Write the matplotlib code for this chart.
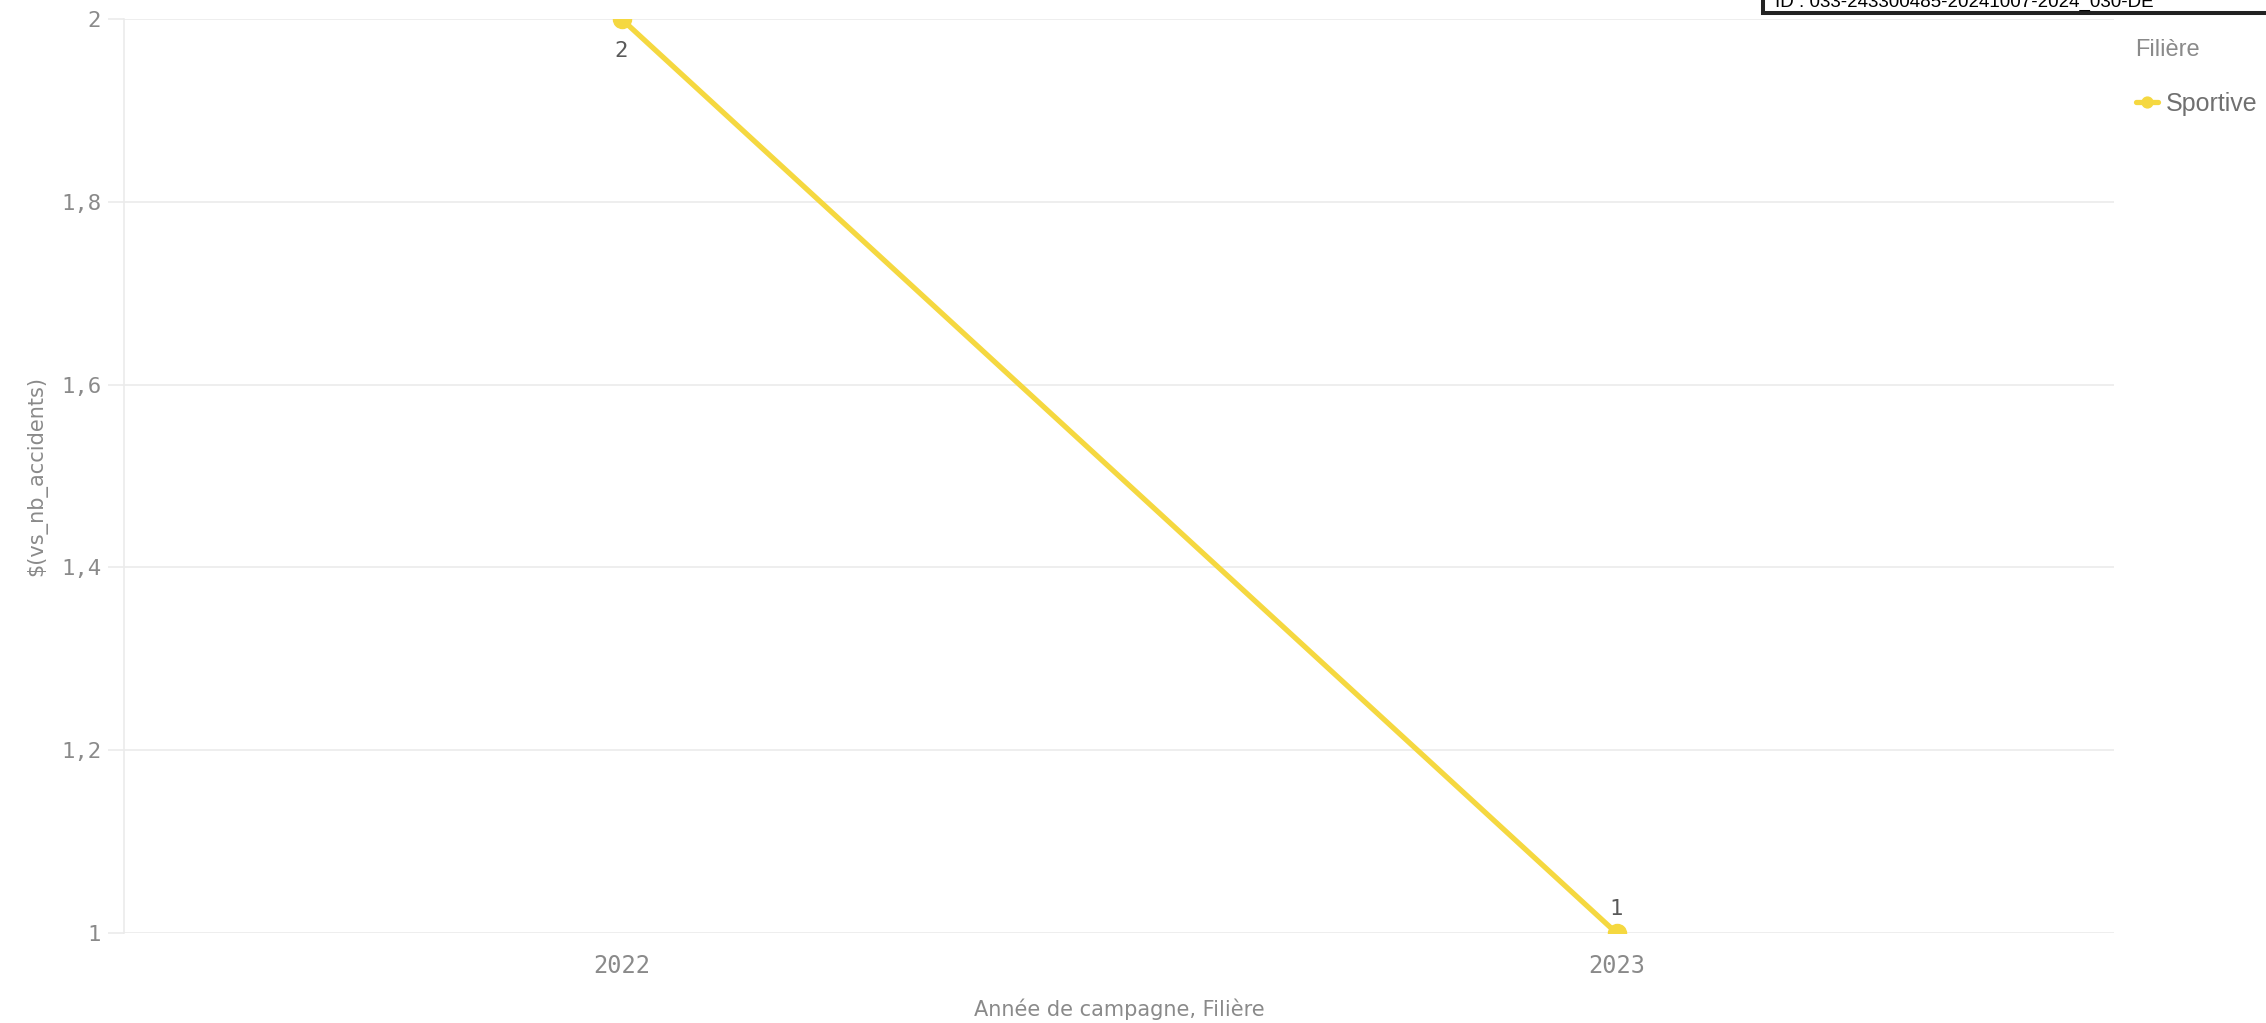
import matplotlib
matplotlib.use('agg')
import matplotlib.pyplot as plt
from matplotlib.patches import Rectangle

# data
years = ['2022', '2023']
nb_accidents = [2, 1]
series_name = 'Sportive'
y_ticks = [1, 1.2, 1.4, 1.6, 1.8, 2]
y_tick_labels = ['1', '1,2', '1,4', '1,6', '1,8', '2']

line_color = '#f5d840'
grid_color = '#ebebeb'
label_color = '#8a8a8a'

fig = plt.figure(figsize=(22.66, 10.23), dpi=100)
ax = fig.add_axes([124 / 2266, 1 - 933 / 1023, (2114 - 124) / 2266, (933 - 19) / 1023])

x = list(range(len(years)))
ax.plot(x, nb_accidents, color=line_color, lw=3.8, marker='o', ms=13,
        solid_capstyle='round', label=series_name, clip_on=True, zorder=3)

# value labels
for xi, v in zip(x, nb_accidents):
    off = -32 if v == max(nb_accidents) else 24
    ax.annotate(str(v), (xi, v), xytext=(0, off), textcoords='offset pixels',
                ha='center', va='center', fontsize=16, family='DejaVu Sans Mono', color='#595959')

ax.set_xlim(-0.5, len(years) - 0.5)
ax.set_ylim(1, 2)
ax.set_xticks(x)
ax.set_xticklabels(years, family='DejaVu Sans Mono', fontsize=17, color=label_color)
ax.set_yticks(y_ticks)
ax.set_yticklabels(y_tick_labels, family='DejaVu Sans Mono', fontsize=16, color=label_color)
ax.tick_params(axis='x', length=0, pad=15)
ax.tick_params(axis='y', length=11.5, width=1.2, color=grid_color, pad=5)

ax.grid(axis='y', color=grid_color, lw=1.2)
ax.set_axisbelow(True)
for side in ['top', 'right', 'bottom']:
    ax.spines[side].set_visible(False)
ax.spines['left'].set_color(grid_color)
ax.spines['left'].set_linewidth(1.2)

ax.set_xlabel('Année de campagne, Filière', fontsize=15, color=label_color, labelpad=15)
ax.set_ylabel('$(vs_nb_accidents)', fontsize=15, color=label_color, labelpad=10)

leg = ax.legend(loc='upper left', bbox_to_anchor=(2113 / 2266, 1 - 17 / 1023),
                bbox_transform=fig.transFigure, frameon=False, title='Filière',
                prop={'family': 'Liberation Sans', 'size': 18},
                title_fontproperties={'family': 'Liberation Sans', 'size': 17},
                handlelength=0.9, handletextpad=0.3,
                labelspacing=1.2, alignment='left', markerscale=0.6)
leg.get_title().set_color(label_color)
for t in leg.get_texts():
    t.set_color('#707070')

# header box cut at top of image
fig.patches.append(Rectangle((1763 / 2266, 1 - 13 / 1023), 0.3, 0.1, transform=fig.transFigure,
                             facecolor='white', edgecolor='#222222', lw=2.9, zorder=5))
fig.text(1775 / 2266, 1 - 7 / 1023, 'ID : 033-243300485-20241007-2024_030-DE',
         fontsize=13.5, family='Liberation Sans', color='black', va='baseline', zorder=6)

fig.savefig('out.png', dpi=100)
